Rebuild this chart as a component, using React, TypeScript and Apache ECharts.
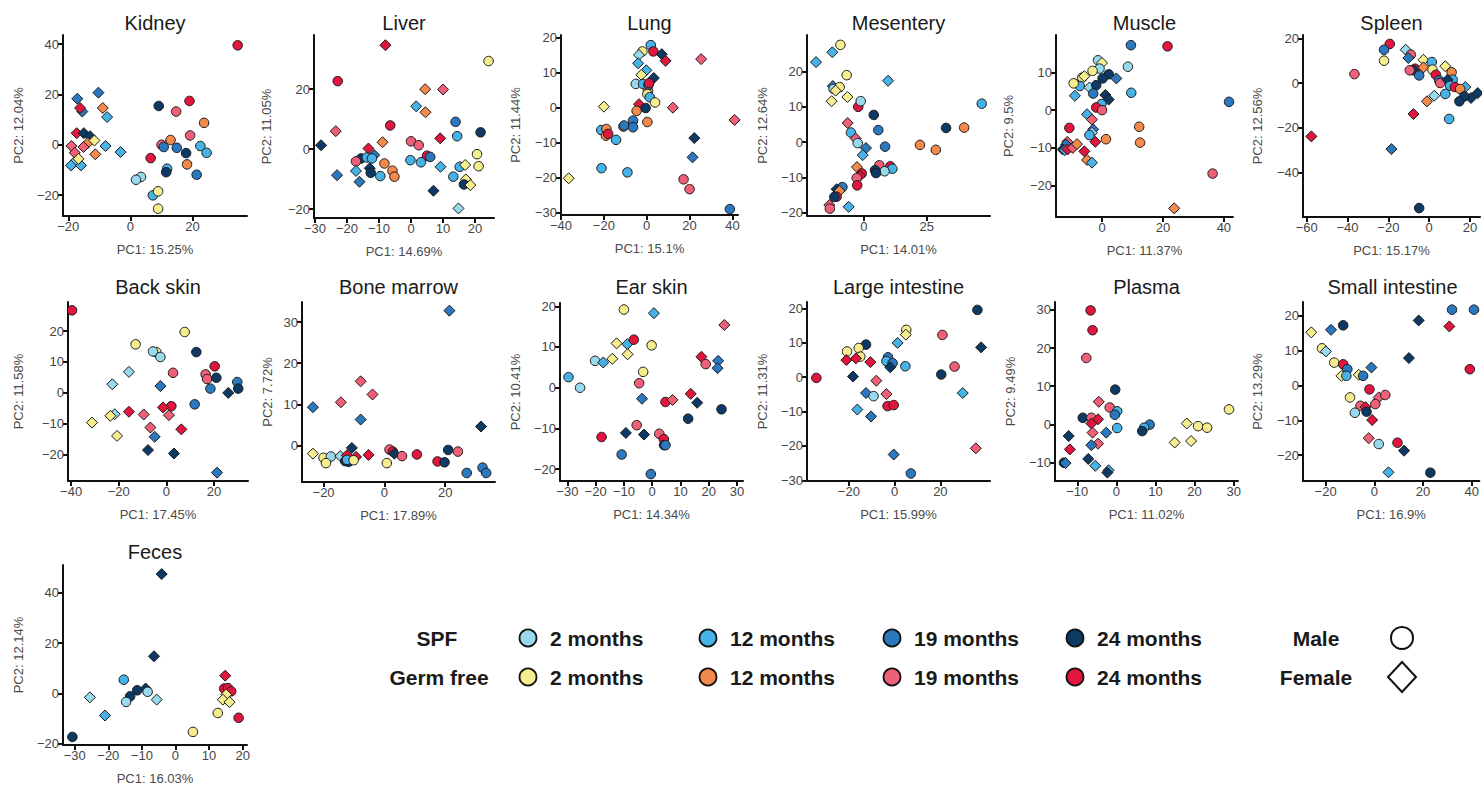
import React, { useEffect, useRef } from 'react';
import * as echarts from 'echarts';

// point: [PC1, PC2, group, sex]  group: 0 SPF2,1 SPF12,2 SPF19,3 SPF24,4 GF2,5 GF12,6 GF19,7 GF24 ; sex 0 male(circle) 1 female(diamond)
type Pt = [number, number, number, number];

const groupColors = ['#98d9ee', '#47b2e6', '#2c78bf', '#0c3a64', '#f6ee8e', '#f3894a', '#ef6078', '#e1153e'];
const ageLabels = ['2 months', '12 months', '19 months', '24 months'];
const rowLabels = ['SPF', 'Germ free'];
const sexLabels = ['Male', 'Female'];

const panelNames = ['Kidney', 'Liver', 'Lung', 'Mesentery', 'Muscle', 'Spleen', 'Back skin', 'Bone marrow', 'Ear skin', 'Large intestine', 'Plasma', 'Small intestine', 'Feces'];
const pc1Labels = ['PC1: 15.25%', 'PC1: 14.69%', 'PC1: 15.1%', 'PC1: 14.01%', 'PC1: 11.37%', 'PC1: 15.17%', 'PC1: 17.45%', 'PC1: 17.89%', 'PC1: 14.34%', 'PC1: 15.99%', 'PC1: 11.02%', 'PC1: 16.9%', 'PC1: 16.03%'];
const pc2Labels = ['PC2: 12.04%', 'PC2: 11.05%', 'PC2: 11.44%', 'PC2: 12.64%', 'PC2: 9.5%', 'PC2: 12.56%', 'PC2: 11.58%', 'PC2: 7.72%', 'PC2: 10.41%', 'PC2: 11.31%', 'PC2: 9.49%', 'PC2: 13.29%', 'PC2: 12.14%'];

const xTicks = [
  [-20, 0, 20], [-30, -20, -10, 0, 10, 20], [-40, -20, 0, 20, 40], [0, 25], [0, 20, 40], [-60, -40, -20, 0, 20],
  [-40, -20, 0, 20], [-20, 0, 20], [-30, -20, -10, 0, 10, 20, 30], [-20, 0, 20], [-10, 0, 10, 20, 30], [-20, 0, 20, 40],
  [-30, -20, -10, 0, 10, 20],
];
const yTicks = [
  [-20, 0, 20, 40], [-20, 0, 20], [-30, -20, -10, 0, 10, 20], [-20, -10, 0, 10, 20], [-20, -10, 0, 10], [-40, -20, 0, 20],
  [-20, -10, 0, 10, 20], [0, 10, 20, 30], [-20, -10, 0, 10, 20], [-30, -20, -10, 0, 10, 20], [-10, 0, 10, 20, 30], [-20, -10, 0, 10, 20],
  [-20, 0, 20, 40],
];
const xRanges = [
  [-21.7, 37.5], [-30.3, 25.9], [-40, 42.6], [-22.7, 50.2], [-15.1, 43], [-61.8, 24.9],
  [-41.3, 34.3], [-27.1, 36.4], [-32.6, 32.1], [-38.3, 41.7], [-15.7, 31.1], [-29.3, 43.1],
  [-33.5, 21.3],
];
const yRanges = [
  [-28.3, 43.6], [-23, 38.1], [-30.7, 20.8], [-21, 30.4], [-28.3, 19.9], [-60, 21.5],
  [-28.5, 29.4], [-8.9, 34.9], [-22.9, 20.8], [-30.2, 21.9], [-14.9, 32.1], [-27.4, 24],
  [-20.4, 51],
];

const kidney: Pt[] = [
  [34.5, 39.5, 7, 0], [-10.3, 20.7, 2, 1], [-17.1, 18.3, 2, 1], [-15.5, 13.2, 2, 1], [-16.2, 14.6, 7, 1], [-8.9, 14.6, 5, 1],
  [-7.5, 11, 1, 1], [-17.3, 4.6, 7, 1], [-15, 4.6, 3, 1], [-13, 3.4, 3, 1], [-13.7, 0.7, 5, 1], [-11.6, 1.7, 4, 1],
  [-19, -0.5, 6, 1], [-8, -0.5, 1, 1], [-15.1, -0.9, 6, 1], [-11.3, -3.8, 5, 1], [-3.2, -2.9, 1, 1], [-17.9, -3.2, 6, 1],
  [-18.3, -7.3, 0, 1], [-19.1, -8.2, 1, 1], [-15.9, -8.2, 1, 1], [-16.7, -5.6, 4, 1],
  [9.1, 15.4, 3, 0], [19, 17.4, 7, 0], [14.7, 13.2, 6, 0], [23.7, 8.7, 5, 0], [19.2, 3.7, 6, 0], [12.9, 1.9, 5, 0],
  [10, 0, 6, 0], [10.7, -0.9, 2, 0], [14.9, -1.2, 2, 0], [22.5, -0.5, 1, 0], [24.5, -3.2, 1, 0], [17.9, -3.3, 3, 0],
  [6.5, -5.3, 7, 0], [18.2, -7.8, 5, 0], [11.8, -9.5, 1, 0], [11.5, -10.9, 3, 0], [21.3, -11.9, 2, 0], [3.4, -12.8, 0, 0],
  [1.8, -13.9, 0, 0], [7.2, -20.1, 1, 0], [8.9, -18.5, 4, 0], [8.9, -25.4, 4, 0],
];
const liver: Pt[] = [
  [-8, 34.7, 7, 1], [24.2, 29.4, 4, 0], [-22.9, 22.7, 7, 0], [4.4, 20, 5, 1], [10, 19.9, 6, 1], [1.6, 14.3, 1, 1],
  [4.5, 12.3, 5, 1], [-23.5, 6, 6, 1], [-6.5, 7.9, 7, 0], [13.9, 9.1, 2, 0], [14.4, 4.3, 1, 0], [21.7, 5.6, 3, 0],
  [9.1, 3.6, 7, 1], [-28.1, 1.3, 3, 1], [-13.3, 0.2, 7, 1], [-8.9, 2.3, 5, 1], [0, 2.6, 6, 0], [2.4, 1.3, 6, 0],
  [20.6, -1.7, 4, 0], [5, -2.2, 7, 0], [6, -2.6, 2, 0], [-0.2, -3.7, 1, 0], [3.1, -4.4, 1, 0], [-15.6, -3.1, 3, 0],
  [-13.8, -2.8, 1, 0], [-11.5, -2, 2, 1], [-12.2, -3.1, 1, 0], [-17.2, -4.1, 6, 0], [-8.3, -4.8, 5, 0], [9.2, -5.9, 1, 1],
  [21.1, -5.7, 4, 0], [15.2, -5.9, 1, 0], [16.9, -5.3, 4, 1], [-12.9, -6.4, 3, 1], [-12.6, -7.9, 3, 0], [-5.8, -7.2, 5, 0],
  [-5.2, -9.2, 5, 0], [-17.2, -7.3, 1, 1], [-23.1, -8.7, 2, 1], [-9.6, -9, 1, 0], [13.2, -9.2, 1, 0], [-16.1, -10.9, 2, 1],
  [17.1, -10.1, 4, 1], [16.5, -11.8, 3, 0], [18.5, -12, 4, 1], [7, -13.9, 3, 1], [14.8, -19.8, 0, 1],
];
const lung: Pt[] = [
  [1.9, 17.9, 1, 0], [-2, 16.1, 4, 0], [-3.6, 15.1, 0, 1], [3.1, 16.1, 7, 0], [7, 15.3, 3, 1], [8.8, 13.4, 7, 1],
  [25.4, 13.9, 6, 1], [-4, 12.7, 1, 1], [-0.2, 10.7, 1, 1], [-2.5, 9.4, 4, 1], [3.3, 8.5, 3, 1], [-5.1, 6.8, 0, 0],
  [-1.7, 6.8, 1, 0], [0.6, 4.9, 5, 0], [0.8, 6.5, 2, 0], [1.1, 7, 7, 0], [0.3, 3.9, 4, 0], [1.4, 3, 1, 0],
  [3.9, 1.5, 4, 0], [-3.6, 1, 7, 1], [-4.7, -0.9, 5, 0], [-0.5, -0.1, 3, 0], [-20, 0.3, 4, 1], [12.2, 0, 6, 1],
  [41, -3.5, 6, 1], [0.3, -4.1, 5, 0], [-6.4, -3.7, 2, 0], [-10.9, -5.4, 5, 0], [-10.5, -5.1, 2, 0], [-6.4, -5.6, 2, 0],
  [-21.2, -6.4, 1, 0], [-18.8, -6.1, 5, 0], [-19, -8, 5, 0], [-18, -7.5, 7, 0], [-14.3, -9.2, 1, 0], [22.2, -8.7, 3, 1],
  [21.4, -14.2, 2, 1], [-21.1, -17.3, 1, 0], [-9, -18.5, 1, 0], [-36.4, -20.2, 4, 1], [17.2, -20.5, 6, 0], [20, -23.3, 6, 0],
  [38.8, -29, 2, 0],
];
const mesentery: Pt[] = [
  [-19.1, 22.7, 1, 1], [-12.6, 25.5, 1, 1], [-9.4, 27.6, 4, 0], [-12.4, 15.9, 2, 1], [-12.1, 15.1, 0, 0], [-9.7, 15.6, 4, 0],
  [-11.3, 14.6, 4, 1], [-6.9, 19, 4, 0], [9.6, 17.4, 1, 1], [-6.6, 12.8, 4, 1], [-12.9, 11.6, 4, 1], [-2.3, 10, 7, 0],
  [-1.3, 11.6, 0, 0], [3.9, 7.7, 3, 0], [46.9, 10.9, 1, 0], [-6.5, 5.4, 6, 1], [5.7, 3.4, 2, 0], [-5.2, 2.7, 1, 0],
  [-3.3, 1, 6, 1], [-2.5, -0.3, 0, 0], [0.8, -1.7, 2, 1], [8.4, -1.3, 2, 0], [-0.5, -3.7, 1, 1], [32.7, 4, 3, 0],
  [39.9, 4.1, 5, 0], [22.3, -0.8, 5, 0], [28.6, -2.2, 5, 0], [6.1, -6.6, 6, 0], [10.5, -6.9, 7, 0], [11.3, -7.6, 1, 0],
  [8.2, -8.3, 0, 0], [4.4, -8, 3, 0], [4.8, -8.8, 3, 0], [-2.8, -7.1, 5, 1], [-0.9, -8.9, 7, 0], [-1.6, -9.6, 7, 1],
  [-2.9, -10.2, 6, 0], [-2.7, -12.3, 7, 0], [-8.6, -12.8, 2, 0], [-10.9, -13.4, 3, 1], [-9.8, -13.9, 5, 1], [-10.9, -15.5, 7, 0],
  [-11.8, -15.6, 3, 0], [-13.8, -17.9, 6, 1], [-13.6, -18.9, 6, 0], [-6.1, -18.4, 1, 1],
];
const muscle: Pt[] = [
  [9.5, 17.2, 2, 0], [21.5, 16.9, 7, 0], [-1.3, 13.2, 0, 0], [0, 12.5, 4, 1], [8.5, 11.5, 0, 0], [-0.8, 11, 0, 0],
  [-3.1, 10.4, 4, 0], [2.2, 9.5, 3, 0], [0.2, 8.4, 3, 0], [4.7, 8.4, 2, 1], [-6.5, 8.6, 4, 0], [-5.8, 9, 4, 1],
  [-7.3, 6.4, 1, 0], [-9.3, 7.1, 4, 0], [-4.1, 6, 0, 1], [-1.9, 6.6, 3, 0], [-2.9, 4.4, 2, 0], [9.6, 4.6, 1, 0],
  [1.1, 4, 3, 1], [2.2, 2.8, 3, 1], [-8.9, 3.8, 1, 1], [-0.2, 1.6, 1, 0], [-1.9, 0.7, 7, 0], [0, 0, 6, 0],
  [41.7, 2.2, 2, 0], [-4.9, -1.1, 1, 1], [-3.3, -2.5, 6, 1], [-10.7, -4.7, 7, 0], [12.2, -4.4, 5, 0], [-2.9, -5.1, 2, 1],
  [-3.3, -6, 0, 1], [-4.1, -6.6, 1, 0], [1.3, -7.7, 5, 0], [-2.2, -8.4, 7, 1], [12.5, -8.6, 5, 0], [-11.4, -8.4, 6, 1],
  [-11.8, -9.1, 2, 1], [-12.9, -10.4, 3, 1], [-12.2, -10.6, 1, 1], [-11.3, -10.4, 7, 1], [-9.6, -10, 6, 1], [-8.2, -9, 5, 1],
  [-5.8, -10.9, 7, 1], [-4.9, -13.2, 5, 1], [-3.3, -13.9, 1, 1], [36.3, -16.8, 6, 0], [23.7, -26, 5, 1],
];
const spleen: Pt[] = [
  [-19.3, 17.5, 7, 0], [-22.1, 14.9, 2, 0], [-22.1, 10, 4, 0], [-36.6, 4, 6, 0], [-11.5, 14.9, 0, 1], [-9, 12.7, 6, 0],
  [-10.2, 11.2, 2, 1], [-2.8, 10.4, 4, 1], [1.3, 9.4, 1, 0], [7.9, 7.5, 4, 1], [-6.9, 6.4, 7, 0], [-7.7, 5.7, 3, 0],
  [-9.5, 5.7, 6, 0], [-2.8, 7, 5, 1], [1.6, 6, 4, 0], [11, 4.8, 5, 0], [3.3, 3.7, 7, 0], [-4.9, 3.4, 2, 0],
  [11.5, 1.5, 1, 0], [4.9, 1.2, 2, 0], [5.4, 0, 6, 0], [9, 1.5, 3, 1], [10.3, -1.2, 1, 0], [12.6, -1.8, 7, 0],
  [17.7, -1.8, 1, 1], [15.2, -2.7, 5, 0], [23.8, -4.5, 3, 1], [20.5, -6.7, 3, 1], [17.2, -6, 3, 0], [14.8, -8.2, 3, 0],
  [7.9, -4.9, 1, 0], [2.5, -5.7, 0, 1], [-1.1, -8.2, 5, 1], [-7.7, -13.9, 7, 1], [9.8, -16.1, 1, 0], [-57.7, -23.9, 7, 1],
  [-18.5, -29.6, 2, 1], [-4.9, -56, 3, 0],
];
const backSkin: Pt[] = [
  [-39.6, 26.7, 7, 0], [7.7, 19.7, 4, 0], [-12.9, 15.7, 4, 0], [-4.2, 13.2, 4, 0], [-5.6, 13.4, 0, 0], [-2.5, 11.6, 0, 0],
  [12.6, 13.2, 3, 0], [-15.7, 6.8, 0, 1], [2.8, 6.5, 6, 0], [20.3, 8.6, 7, 0], [16.5, 6, 6, 0], [17.1, 4.5, 6, 0],
  [21, 4.9, 3, 0], [29.8, 3.5, 2, 0], [30.2, 1.4, 3, 0], [18.5, 1.4, 2, 0], [26, 0, 3, 1], [-22.7, 2.8, 0, 1],
  [-2.5, 2.2, 2, 1], [11.9, -3.7, 2, 0], [2.1, -4.3, 7, 0], [-1.4, -4.7, 7, 1], [1.1, -7.2, 6, 1], [-15.7, -6.1, 7, 1],
  [-9.5, -7, 6, 1], [-21.7, -6.9, 0, 1], [-23.5, -7.4, 4, 1], [-31.2, -9.6, 4, 1], [-20.7, -13.9, 4, 1], [-6.7, -11.2, 6, 1],
  [6.3, -11.8, 7, 1], [-4.9, -14.2, 2, 1], [-7.7, -18.5, 3, 1], [3.2, -19.6, 3, 1], [21.3, -25.8, 2, 1],
];
const boneMarrow: Pt[] = [
  [21.4, 32.8, 2, 1], [-7.8, 15.6, 6, 1], [-14.3, 10.5, 6, 1], [-3.9, 12.4, 6, 1], [-23.5, 9.3, 2, 1], [-7.8, 6.3, 2, 1],
  [31.8, 4.6, 3, 1], [-10.7, -0.6, 3, 1], [21, -1.1, 3, 0], [24.2, -1.5, 6, 0], [-23.5, -2, 4, 1], [-20, -3, 4, 0],
  [-17.6, -2.7, 0, 0], [-19.2, -4.3, 4, 0], [-14.5, -2.6, 0, 1], [-12.3, -2.4, 7, 1], [-9.3, -2.8, 7, 1], [-12.9, -3.8, 3, 0],
  [-11.8, -4, 3, 0], [-12.3, -3.5, 1, 0], [-10.1, -3.6, 4, 0], [-5.2, -2.3, 7, 1], [1.7, -1, 6, 0], [2.8, -1.5, 7, 0],
  [3.3, -2, 3, 1], [5.8, -2.6, 6, 0], [10.7, -2.2, 7, 0], [0.8, -4.3, 4, 0], [17.5, -3.9, 7, 0], [19.8, -4.1, 3, 0],
  [27.1, -6.7, 2, 0], [32.3, -5.4, 2, 0], [33.5, -6.7, 2, 0],
];
const earSkin: Pt[] = [
  [-10, 19.2, 4, 0], [0.6, 18.3, 1, 1], [25.5, 15.4, 6, 1], [-12.6, 10.9, 4, 1], [-8.8, 10.7, 1, 1], [-6.5, 11.8, 7, 0],
  [-0.2, 10.4, 4, 0], [-20.2, 6.6, 0, 0], [-17.3, 6.2, 1, 1], [-14.1, 7.1, 4, 1], [-8.7, 8.2, 4, 1], [17.4, 7.6, 7, 1],
  [18.9, 5.8, 6, 0], [23.3, 6.6, 2, 1], [23.1, 4.8, 2, 1], [-29.6, 2.6, 1, 0], [-25.5, 0, 0, 0], [-3.2, 3.9, 4, 0],
  [-4.6, 1.1, 6, 0], [-3.6, -2.7, 2, 1], [4.7, -3.5, 7, 0], [7.2, -3, 6, 1], [13.6, -1.5, 7, 1], [15.9, -3.7, 3, 1],
  [24.5, -5.3, 3, 0], [12.7, -7.6, 3, 0], [-5.5, -9.2, 6, 0], [-17.9, -12.1, 7, 0], [-9.3, -11.1, 3, 1], [-2.9, -11.5, 3, 1],
  [2.5, -11.3, 6, 0], [4.1, -12.6, 7, 0], [4.2, -14.1, 3, 0], [4.7, -14.1, 2, 0], [-10.8, -16.4, 2, 0], [-0.5, -21.2, 2, 0],
];
const largeIntestine: Pt[] = [
  [36.2, 19.6, 3, 0], [37.8, 8.7, 3, 1], [5.1, 13.8, 4, 0], [4.9, 12.4, 4, 1], [20.9, 12.3, 6, 0], [1.3, 10, 1, 1],
  [-12.5, 9.5, 3, 0], [-20.8, 7.5, 4, 0], [-15.7, 8.5, 4, 0], [-15, 6, 4, 0], [-2.9, 5.8, 2, 0], [-21.1, 5, 7, 1],
  [-16.9, 5.5, 7, 1], [-3.6, 4.7, 1, 0], [-0.9, 4.1, 2, 0], [-1.9, 2.9, 3, 1], [-10.6, 4.4, 7, 1], [4.7, 3.2, 1, 0],
  [26.2, 3.1, 6, 0], [20.4, 0.8, 3, 0], [-18.2, 0.2, 3, 1], [-34.2, -0.2, 7, 0], [-8, -1, 6, 1], [-12.5, -4.6, 2, 1],
  [-9.2, -5.5, 0, 0], [-3.6, -4.9, 6, 1], [29.8, -4.6, 1, 1], [-3.1, -8.4, 7, 0], [-0.4, -8.1, 7, 0], [-16.3, -9.4, 1, 1],
  [-10.3, -11.4, 2, 1], [-0.4, -22.5, 2, 1], [7.1, -28, 2, 0], [35.5, -20.7, 6, 1],
];
const plasma: Pt[] = [
  [-6.6, 29.9, 7, 0], [-6.1, 24.7, 7, 0], [-7.7, 17.4, 6, 0], [-0.3, 9.1, 3, 0], [-4.5, 5.9, 6, 1], [-1.7, 4.4, 6, 0],
  [0.2, 3.4, 1, 0], [-0.4, 2.5, 2, 0], [28.8, 3.9, 4, 0], [-8.6, 1.7, 3, 0], [-6.4, 1.7, 6, 0], [-4.7, 1.3, 7, 1],
  [-6.4, 0.2, 7, 1], [0.2, -1, 1, 0], [8.5, -0.1, 2, 0], [7.1, -0.9, 1, 0], [6.6, -1.8, 3, 0], [18, 0.2, 4, 1],
  [20.9, -0.5, 4, 0], [23.2, -0.9, 4, 0], [14.9, -4.8, 4, 1], [19.1, -4.4, 4, 1], [-6.1, -2.2, 6, 1], [-2.6, -2.2, 2, 1],
  [-12.2, -3.1, 3, 1], [-4.7, -5.1, 6, 1], [-6.4, -5.5, 2, 1], [-11.9, -6.6, 7, 1], [-7.2, -9.1, 3, 1], [-13.4, -10.1, 3, 0],
  [-13, -10.2, 2, 1], [-5.4, -10.9, 1, 1], [-2, -12.1, 1, 1], [-2.3, -12.7, 3, 1],
];
const smallIntestine: Pt[] = [
  [-25.9, 15.3, 4, 1], [-17.8, 16, 2, 1], [-12.8, 17.3, 3, 0], [31.9, 21.8, 2, 0], [40.9, 21.8, 2, 0], [18.2, 18.7, 3, 1],
  [30.8, 17, 7, 1], [14.2, 7.9, 3, 1], [39.2, 4.7, 7, 0], [-21.5, 10.7, 4, 0], [-19.9, 9.8, 0, 1], [-16.5, 6.6, 4, 0],
  [-12.8, 6.1, 7, 0], [-11.1, 4.7, 2, 0], [-13.5, 2.8, 4, 1], [-11.5, 2.8, 1, 0], [-6.4, 3.1, 4, 1], [-4.6, 2.8, 2, 0],
  [-1.2, 5.2, 2, 1], [-2, -1.1, 7, 0], [-10, -3.4, 4, 0], [1.8, -3.4, 6, 1], [4.5, -2.7, 6, 0], [-5.7, -5.8, 6, 0],
  [-3.6, -6.2, 7, 1], [0.4, -5.3, 6, 0], [-3.2, -7.5, 3, 0], [-8, -7.8, 0, 0], [-0.9, -9.9, 7, 1], [-2.3, -15.1, 6, 1],
  [1.8, -16.8, 0, 0], [9.5, -16.4, 7, 0], [12.2, -18.7, 3, 1], [5.8, -24.9, 1, 1], [23, -25, 3, 0],
];
const feces: Pt[] = [
  [-4.1, 47.4, 3, 1], [-6.4, 14.8, 3, 1], [14.8, 7.1, 7, 1], [-15.4, 5.5, 1, 0], [-11.4, 1.3, 3, 0], [-8.9, 2, 3, 1],
  [-13.5, -1.1, 3, 0], [-8.3, 0.7, 0, 0], [-14.7, -3.3, 0, 0], [-25.5, -1.5, 0, 1], [-5.6, -2.4, 0, 1], [-21, -8.7, 1, 1],
  [-30.7, -17.2, 3, 0], [5.2, -15.2, 4, 0], [14.5, 2, 7, 0], [15.6, 2.2, 7, 0], [16.6, 0.9, 7, 0], [15.1, -0.4, 4, 1],
  [14.1, -2.4, 4, 1], [16.1, -3.4, 4, 1], [12.6, -7.7, 4, 0], [18.8, -9.6, 7, 0],
];

const panelData: Pt[][] = [kidney, liver, lung, mesentery, muscle, spleen, backSkin, boneMarrow, earSkin, largeIntestine, plasma, smallIntestine, feces];

// layout: [left, top, width, height] in px
const layouts = [
  [63, 35, 184, 181], [314, 35, 180, 183], [561, 35, 177, 180], [807, 35, 183, 181], [1056, 35, 177, 182], [1303, 35, 177, 182],
  [68, 302, 180, 179], [302, 302, 193, 180], [560, 303, 183, 178], [807, 302, 183, 179], [1055, 302, 183, 179], [1303, 302, 179, 179],
  [63, 565, 184, 180],
];
const titleY = [23, 23, 23, 23, 23, 23, 287, 287, 287, 287, 287, 287, 552];
const yNameGaps = [38, 41, 39, 38, 41, 39, 43, 28, 38, 38, 38, 39, 38];

const FONT = 'Arial, "Liberation Sans", Helvetica, sans-serif';
const fmt = (v: number) => String(v).replace('-', '\u2212');

export default function App() {
  const ref = useRef<HTMLDivElement>(null);
  useEffect(() => {
    if (!ref.current) return;
    const chart = echarts.init(ref.current, undefined, { renderer: 'svg' });
    const grid: any[] = [];
    const xAxis: any[] = [];
    const yAxis: any[] = [];
    const series: any[] = [];
    const graphic: any[] = [];
    const axisLine = { show: true, onZero: false, lineStyle: { color: '#111', width: 2 } };
    panelData.forEach((pts, i) => {
      const [l, t, w, h] = layouts[i];
      grid.push({ left: l, top: t, width: w, height: h, containLabel: false });
      xAxis.push({
        type: 'value', gridIndex: i, min: xRanges[i][0], max: xRanges[i][1],
        name: pc1Labels[i], nameLocation: 'middle', nameGap: 27,
        nameTextStyle: { color: '#4a4a4a', fontSize: 13, fontFamily: FONT },
        axisLine, splitLine: { show: false },
        axisTick: { show: true, length: 5, lineStyle: { color: '#111', width: 2 }, customValues: xTicks[i] },
        axisLabel: { customValues: xTicks[i], formatter: fmt, color: '#444', fontSize: 13, fontFamily: FONT, margin: 4 },
      });
      yAxis.push({
        type: 'value', gridIndex: i, min: yRanges[i][0], max: yRanges[i][1],
        name: pc2Labels[i], nameLocation: 'middle', nameGap: yNameGaps[i], nameRotate: 90,
        nameTextStyle: { color: '#4a4a4a', fontSize: 13, fontFamily: FONT },
        axisLine, splitLine: { show: false },
        axisTick: { show: true, length: 5, lineStyle: { color: '#111', width: 2 }, customValues: yTicks[i] },
        axisLabel: { customValues: yTicks[i], formatter: fmt, color: '#444', fontSize: 13, fontFamily: FONT, margin: 4 },
      });
      series.push({
        type: 'scatter', xAxisIndex: i, yAxisIndex: i, clip: false,
        data: pts.map((p) => ({
          value: [p[0], p[1]],
          symbol: p[3] === 0 ? 'circle' : 'diamond',
          symbolSize: p[3] === 0 ? 9.5 : 11,
          itemStyle: { color: groupColors[p[2]], borderColor: '#1a1a1a', borderWidth: 1, opacity: 1 },
        })),
      });
      graphic.push({
        type: 'text', x: l + w / 2, y: titleY[i],
        style: { text: panelNames[i], fill: '#1a1a1a', font: `20px ${FONT}`, textAlign: 'center', textVerticalAlign: 'middle', align: 'center', verticalAlign: 'middle' },
      });
    });
    // legend
    const rowY = [638, 677];
    const rowX = [437, 439];
    const colX = [528, 708, 892, 1075];
    rowLabels.forEach((lab, r) => {
      graphic.push({
        type: 'text', x: rowX[r], y: rowY[r],
        style: { text: lab, fill: '#1a1a1a', font: `bold 21px ${FONT}`, textAlign: 'center', textVerticalAlign: 'middle', align: 'center', verticalAlign: 'middle' },
      });
      ageLabels.forEach((age, c) => {
        graphic.push({
          type: 'circle', shape: { cx: colX[c], cy: rowY[r], r: 8.5 },
          style: { fill: groupColors[r * 4 + c], stroke: '#111', lineWidth: 1.8 },
        });
        graphic.push({
          type: 'text', x: colX[c] + 22, y: rowY[r],
          style: { text: age, fill: '#1a1a1a', font: `bold 21px ${FONT}`, textAlign: 'left', textVerticalAlign: 'middle', align: 'left', verticalAlign: 'middle' },
        });
      });
      graphic.push({
        type: 'text', x: 1316, y: rowY[r],
        style: { text: sexLabels[r], fill: '#1a1a1a', font: `bold 21px ${FONT}`, textAlign: 'center', textVerticalAlign: 'middle', align: 'center', verticalAlign: 'middle' },
      });
    });
    graphic.push({ type: 'circle', shape: { cx: 1402, cy: 638, r: 11 }, style: { fill: '#fff', stroke: '#111', lineWidth: 2 } });
    graphic.push({
      type: 'polygon', shape: { points: [[1402, 662], [1416, 677], [1402, 692], [1388, 677]] },
      style: { fill: '#fff', stroke: '#111', lineWidth: 2 },
    });
    chart.setOption({
      animation: false,
      backgroundColor: '#ffffff',
      grid, xAxis, yAxis, series, graphic,
    });
    return () => chart.dispose();
  }, []);
  return <div ref={ref} style={{ position: 'fixed', left: 0, top: 0, width: 1482, height: 787, background: '#fff' }} />;
}
